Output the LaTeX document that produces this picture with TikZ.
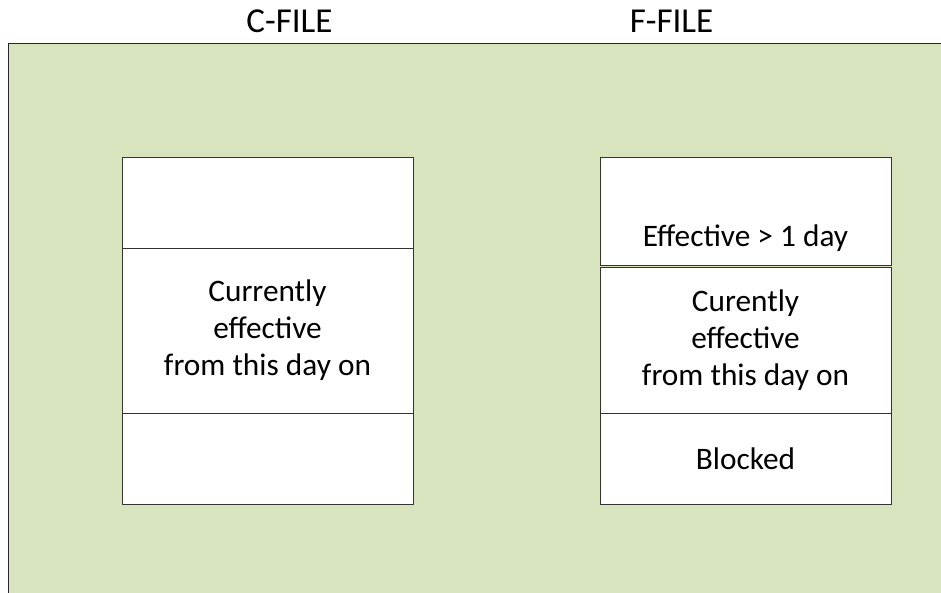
\documentclass[tikz,border=0pt]{standalone}
\usepackage{fontspec}
\setmainfont{Carlito}
\usetikzlibrary{positioning}
\definecolor{panelgreen}{HTML}{D7E4BD}
\tikzset{
    every node/.style={font=\fontsize{31.3}{37}\selectfont},
    cell/.style={shape=rectangle, draw=black!80, fill=white,
    	line width=1pt, align=center, minimum width=291pt,
    	inner sep=0pt, outer sep=0pt},
    file title/.style={font=\fontsize{35}{42}\selectfont, anchor=base}
}

\begin{document}
\begin{tikzpicture}[x=1pt,y=-1pt]
    \useasboundingbox (0,0) rectangle (941,592);
    \draw[fill=panelgreen, draw=black!85, line width=1pt] (8.5,43) rectangle (960,610);

    \node[file title] (ct) at (289.5,32) {C-FILE};
    \node[file title] (ft) at (671.5,32) {F-FILE};

    % C-FILE column
    \node[cell, minimum height=91pt, anchor=north] (c1) at (267.5,157) {};
    \node[cell, minimum height=165pt, below=0pt of c1] (c2) {Currently\\effective\\from this day on};
    \node[cell, minimum height=91pt, below=0pt of c2] (c3) {};

    % F-FILE column
    \node[cell, minimum height=108pt, anchor=north] (f1) at (745.5,157) {};
    \node[cell, minimum height=146pt, below=2pt of f1] (f2) {Curently\\effective\\from this day on};
    \node[cell, minimum height=91pt, below=0pt of f2] (f3) {Blocked};
    \node[anchor=base] (f1t) at ([yshift=19pt]f1.south) {Effective > 1 day};

\end{tikzpicture}
\end{document}
